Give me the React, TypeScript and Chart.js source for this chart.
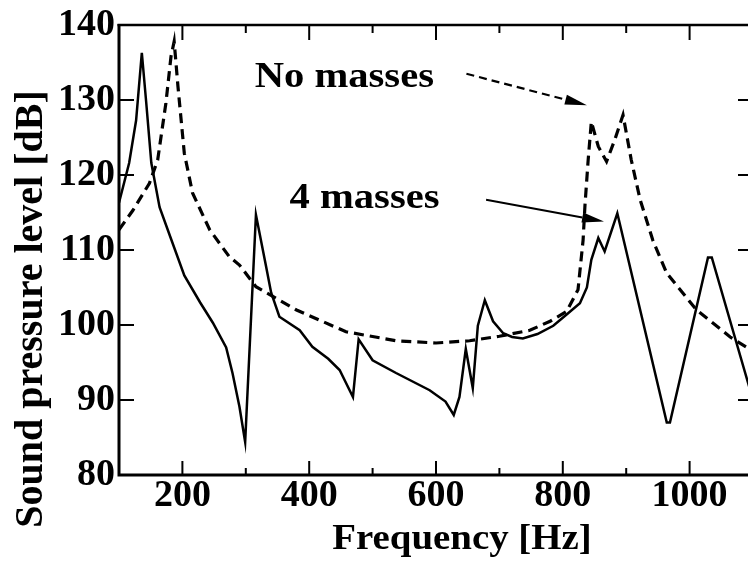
import React, { useEffect, useRef } from "react";
import { Chart, registerables } from "chart.js";

Chart.register(...registerables);

// "No masses" curve (dashed)
const NO_MASS_FREQ = [100, 122, 148, 161, 174, 182, 187, 193, 203, 216, 243, 274, 290, 316, 380, 458, 537, 600, 653, 700, 748, 780, 806, 824, 832, 835, 840, 845, 856, 869, 882, 895, 908, 922, 942, 964, 1011, 1064, 1100];
const NO_MASS_DB = [112.7, 115.3, 118.9, 122, 129.6, 135.8, 137.8, 131.8, 122.9, 117.6, 112.7, 109.1, 108, 105.1, 102, 99.1, 97.9, 97.6, 97.9, 98.5, 99.3, 100.5, 101.8, 104.7, 111.3, 116, 122, 127.1, 123.8, 121.8, 124.7, 128, 122, 116.7, 111.3, 106.9, 102, 98.4, 96.5];

// "4 masses" curve (solid)
const FOUR_MASS_FREQ = [100, 116, 127, 136, 143, 151, 164, 182, 203, 228, 248, 269, 279, 290, 299, 316, 332, 340, 353, 385, 405, 430, 448, 469, 478, 500, 537, 590, 615, 628, 637, 647, 658, 666, 677, 690, 706, 720, 737, 760, 785, 806, 827, 838, 845, 856, 866, 886, 964, 969, 1029, 1035, 1100];
const FOUR_MASS_DB = [116.3, 121.6, 127.3, 136.3, 129.6, 121.6, 115.7, 111.5, 106.6, 103, 100.3, 97, 93.6, 89.1, 84.4, 114.7, 107.8, 104.3, 101.1, 99.3, 97.1, 95.5, 94, 90.4, 98.1, 95.3, 93.6, 91.3, 89.8, 88, 90.4, 96.8, 91.6, 99.9, 103.3, 100.5, 98.9, 98.4, 98.2, 98.8, 99.9, 101.4, 102.9, 105, 108.7, 111.6, 109.8, 114.9, 87, 87, 109, 109, 90];

const X_MIN = 100;
const X_MAX = 1100;
const Y_MIN = 80;
const Y_MAX = 140;
const X_TICKS = [200, 400, 600, 800, 1000];
const X_MINOR_TICKS = [300, 500, 700, 900];
const Y_STEP = 10;
const Y_INNER_TICKS = [90, 100, 110, 120, 130];

const X_TITLE = "Frequency [Hz]";
const Y_TITLE = "Sound pressure level [dB]";

// annotations (data units)
const LABEL_NO = "No masses";
const LABEL_NO_POS = [314, 131.7];
const ARROW_NO = [648, 133.5, 838, 129.3];
const LABEL_FOUR = "4 masses";
const LABEL_FOUR_POS = [369, 115.6];
const ARROW_FOUR = [679, 116.7, 865, 113.8];

const FONT = '"Liberation Serif", "Times New Roman", serif';

function drawArrow(ctx: CanvasRenderingContext2D, x1: number, y1: number, x2: number, y2: number, dashed: boolean) {
  const ang = Math.atan2(y2 - y1, x2 - x1);
  const headLen = 22;
  const headW = 5;
  const bx = x2 - headLen * Math.cos(ang);
  const by = y2 - headLen * Math.sin(ang);
  ctx.save();
  ctx.strokeStyle = "#000";
  ctx.fillStyle = "#000";
  ctx.lineWidth = dashed ? 2.2 : 1.8;
  ctx.setLineDash(dashed ? [8, 5] : []);
  ctx.beginPath();
  ctx.moveTo(x1, y1);
  ctx.lineTo(bx, by);
  ctx.stroke();
  ctx.setLineDash([]);
  ctx.beginPath();
  ctx.moveTo(x2, y2);
  ctx.lineTo(bx + headW * Math.sin(ang), by - headW * Math.cos(ang));
  ctx.lineTo(bx - headW * Math.sin(ang), by + headW * Math.cos(ang));
  ctx.closePath();
  ctx.fill();
  ctx.restore();
}

function drawText(ctx: CanvasRenderingContext2D, text: string, x: number, y: number, size: number, sx: number, align: CanvasTextAlign) {
  ctx.save();
  ctx.translate(x, y);
  ctx.scale(sx, 1);
  ctx.font = `bold ${size}px ${FONT}`;
  ctx.fillStyle = "#000";
  ctx.textAlign = align;
  ctx.textBaseline = "alphabetic";
  ctx.fillText(text, 0, 0);
  ctx.restore();
}

const framePlugin = {
  id: "framePlugin",
  afterDraw(chart: any) {
    const ctx: CanvasRenderingContext2D = chart.ctx;
    const { left, right, top, bottom } = chart.chartArea;
    const xs = chart.scales.x;
    const ys = chart.scales.y;
    ctx.save();
    ctx.strokeStyle = "#000";
    ctx.lineCap = "butt";
    // frame
    ctx.lineWidth = 3;
    ctx.beginPath();
    ctx.moveTo(left, top - 1);
    ctx.lineTo(left, bottom + 1.5);
    ctx.moveTo(left - 1.5, bottom);
    ctx.lineTo(right, bottom);
    ctx.moveTo(right, top);
    ctx.lineTo(right, bottom);
    ctx.stroke();
    ctx.lineWidth = 2.5;
    ctx.beginPath();
    ctx.moveTo(left - 1.5, top);
    ctx.lineTo(right, top);
    ctx.stroke();
    // ticks
    ctx.lineWidth = 2;
    ctx.beginPath();
    X_TICKS.forEach((v) => {
      const px = xs.getPixelForValue(v);
      ctx.moveTo(px, bottom);
      ctx.lineTo(px, bottom - 14);
      ctx.moveTo(px, top);
      ctx.lineTo(px, top + 15);
    });
    X_MINOR_TICKS.forEach((v) => {
      const px = xs.getPixelForValue(v);
      ctx.moveTo(px, bottom);
      ctx.lineTo(px, bottom - 7);
      ctx.moveTo(px, top);
      ctx.lineTo(px, top + 8);
    });
    Y_INNER_TICKS.forEach((v) => {
      const py = ys.getPixelForValue(v);
      ctx.moveTo(left, py);
      ctx.lineTo(left + 15, py);
      ctx.moveTo(right, py);
      ctx.lineTo(right - 15, py);
    });
    ctx.stroke();
    ctx.restore();

    // annotations
    drawText(ctx, LABEL_NO, xs.getPixelForValue(LABEL_NO_POS[0]), ys.getPixelForValue(LABEL_NO_POS[1]), 35, 1.16, "left");
    drawText(ctx, LABEL_FOUR, xs.getPixelForValue(LABEL_FOUR_POS[0]), ys.getPixelForValue(LABEL_FOUR_POS[1]), 35, 1.16, "left");
    drawArrow(ctx, xs.getPixelForValue(ARROW_NO[0]), ys.getPixelForValue(ARROW_NO[1]), xs.getPixelForValue(ARROW_NO[2]), ys.getPixelForValue(ARROW_NO[3]), true);
    drawArrow(ctx, xs.getPixelForValue(ARROW_FOUR[0]), ys.getPixelForValue(ARROW_FOUR[1]), xs.getPixelForValue(ARROW_FOUR[2]), ys.getPixelForValue(ARROW_FOUR[3]), false);

    // axis titles
    drawText(ctx, X_TITLE, 462, 549, 36, 1.08, "center");
    ctx.save();
    ctx.translate(42, 309);
    ctx.rotate(-Math.PI / 2);
    ctx.font = `bold 40px ${FONT}`;
    ctx.fillStyle = "#000";
    ctx.textAlign = "center";
    ctx.textBaseline = "alphabetic";
    ctx.fillText(Y_TITLE, 0, 0);
    ctx.restore();
  },
};

export default function App() {
  const canvasRef = useRef<HTMLCanvasElement | null>(null);

  useEffect(() => {
    const canvas = canvasRef.current;
    if (!canvas) return;
    const tickFont = { family: FONT, size: 38, weight: "bold" as const, lineHeight: 1.1 };
    const chart = new Chart(canvas, {
      type: "line",
      data: {
        datasets: [
          {
            label: "4 masses",
            data: FOUR_MASS_FREQ.map((f, i) => ({ x: f, y: FOUR_MASS_DB[i] })),
            borderColor: "#000",
            borderWidth: 2.5,
            pointRadius: 0,
            tension: 0,
            fill: false,
          },
          {
            label: "No masses",
            data: NO_MASS_FREQ.map((f, i) => ({ x: f, y: NO_MASS_DB[i] })),
            borderColor: "#000",
            borderWidth: 3.2,
            borderDash: [10, 6],
            pointRadius: 0,
            tension: 0,
            fill: false,
          },
        ],
      },
      options: {
        responsive: false,
        maintainAspectRatio: false,
        animation: false,
        devicePixelRatio: 1,
        layout: { padding: { left: 0, top: 25, right: 17, bottom: 0 } },
        plugins: { legend: { display: false }, tooltip: { enabled: false } },
        scales: {
          x: {
            type: "linear",
            min: X_MIN,
            max: X_MAX,
            position: "bottom",
            grid: { display: false, drawTicks: false },
            border: { display: false },
            ticks: {
              font: tickFont,
              color: "#000",
              padding: 0,
              maxRotation: 0,
              autoSkip: false,
              callback: (v: any) => String(v),
            },
            afterBuildTicks: (s: any) => {
              s.ticks = X_TICKS.map((v) => ({ value: v }));
            },
            afterFit: (s: any) => {
              s.height = 94;
            },
          },
          y: {
            type: "linear",
            min: Y_MIN,
            max: Y_MAX,
            grid: { display: false, drawTicks: false },
            border: { display: false },
            ticks: {
              font: tickFont,
              color: "#000",
              padding: 4,
              stepSize: Y_STEP,
              callback: (v: any) => String(v),
            },
            afterFit: (s: any) => {
              s.width = 119;
            },
          },
        },
      },
      plugins: [framePlugin],
    });
    return () => chart.destroy();
  }, []);

  return (
    <div style={{ position: "absolute", left: 0, top: 0, width: 748, height: 569, overflow: "hidden", background: "#fff" }}>
      <canvas ref={canvasRef} width={770} height={569} style={{ display: "block" }} />
    </div>
  );
}
